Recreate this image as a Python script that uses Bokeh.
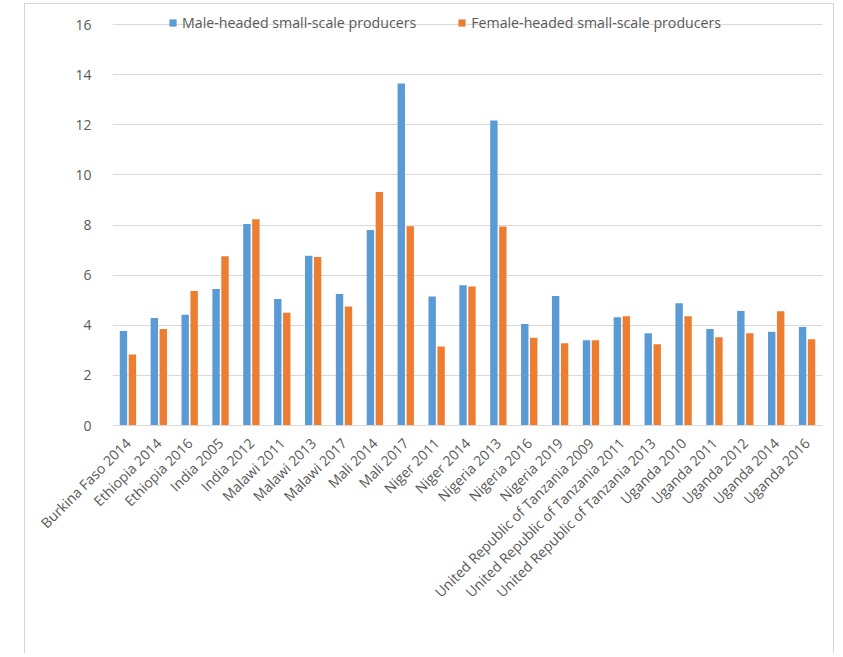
import math
from bokeh.plotting import figure
from bokeh.models import ColumnDataSource, FactorRange, Range1d, FixedTicker, Legend, LegendItem
from bokeh.transform import dodge
from bokeh.embed import file_html
from bokeh.resources import INLINE

categories = [
    "Burkina Faso 2014", "Ethiopia 2014", "Ethiopia 2016", "India 2005", "India 2012",
    "Malawi 2011", "Malawi 2013", "Malawi 2017", "Mali 2014", "Mali 2017",
    "Niger 2011", "Niger 2014", "Nigeria 2013", "Nigeria 2016", "Nigeria 2019",
    "United Republic of Tanzania 2009", "United Republic of Tanzania 2011",
    "United Republic of Tanzania 2013", "Uganda 2010", "Uganda 2011",
    "Uganda 2012", "Uganda 2014", "Uganda 2016",
]
male = [3.77, 4.29, 4.42, 5.45, 8.04, 5.05, 6.77, 5.25, 7.8, 13.65,
        5.15, 5.6, 12.17, 4.05, 5.17, 3.4, 4.32, 3.68, 4.88, 3.85,
        4.57, 3.74, 3.93]
female = [2.83, 3.85, 5.37, 6.75, 8.23, 4.5, 6.72, 4.75, 9.32, 7.95,
          3.15, 5.55, 7.94, 3.5, 3.28, 3.4, 4.36, 3.24, 4.36, 3.52,
          3.68, 4.56, 3.44]
y_ticks = [0, 2, 4, 6, 8, 10, 12, 14, 16]
series_names = ["Male-headed small-scale producers", "Female-headed small-scale producers"]

BLUE = "#5B9BD5"
ORANGE = "#ED7D31"
GRID = "#D9D9D9"
TEXT = "#595959"
FONT = "Open Sans"

src = ColumnDataSource(dict(cat=categories, male=male, female=female))

# frame extends a little above the 16 gridline so the legend (which sits on it) is not clipped
p = figure(
    x_range=FactorRange(*categories, range_padding=0),
    y_range=Range1d(0, 16.48),
    width=810, height=650,
    output_backend="svg", toolbar_location=None,
    min_border_left=87, min_border_right=13, min_border_top=8, min_border_bottom=229,
)
p.margin = (3, 0, 0, 24)
p.styles = {"border-left": "1px solid #D4D4D4", "border-top": "1px solid #D4D4D4",
            "border-right": "1px solid #D4D4D4"}
p.outline_line_color = None

r1 = p.vbar(x=dodge("cat", -0.145, range=p.x_range), top="male", width=0.24,
            source=src, fill_color=BLUE, line_color=None)
r2 = p.vbar(x=dodge("cat", 0.145, range=p.x_range), top="female", width=0.24,
            source=src, fill_color=ORANGE, line_color=None)

p.xgrid.grid_line_color = None
p.ygrid.grid_line_color = GRID
p.ygrid.grid_line_width = 1
p.ygrid.ticker = FixedTicker(ticks=y_ticks)

ya = p.yaxis[0]
ya.ticker = FixedTicker(ticks=y_ticks)
ya.axis_line_color = None
ya.major_tick_line_color = None
ya.minor_tick_line_color = None
ya.major_label_standoff = 15
ya.major_label_text_font = FONT
ya.major_label_text_font_size = "14px"
ya.major_label_text_color = TEXT

xa = p.xaxis[0]
xa.axis_line_color = GRID
xa.major_tick_line_color = None
xa.minor_tick_line_color = None
xa.major_label_orientation = math.pi / 4
xa.major_label_standoff = 9
xa.major_label_text_font = FONT
xa.major_label_text_font_size = "14px"
xa.major_label_text_color = TEXT

legend = Legend(
    items=[LegendItem(label=series_names[0], renderers=[r1]),
           LegendItem(label=series_names[1], renderers=[r2])],
    orientation="horizontal",
    location=(56, 393),
    background_fill_alpha=0,
    border_line_color=None,
    padding=0, margin=0, spacing=41,
    glyph_width=9, glyph_height=9, label_standoff=5,
    label_text_font=FONT, label_text_font_size="14.2px", label_text_color=TEXT,
    label_height=16,
)
p.add_layout(legend, "center")

open("out.html", "w").write(file_html(p, INLINE))
